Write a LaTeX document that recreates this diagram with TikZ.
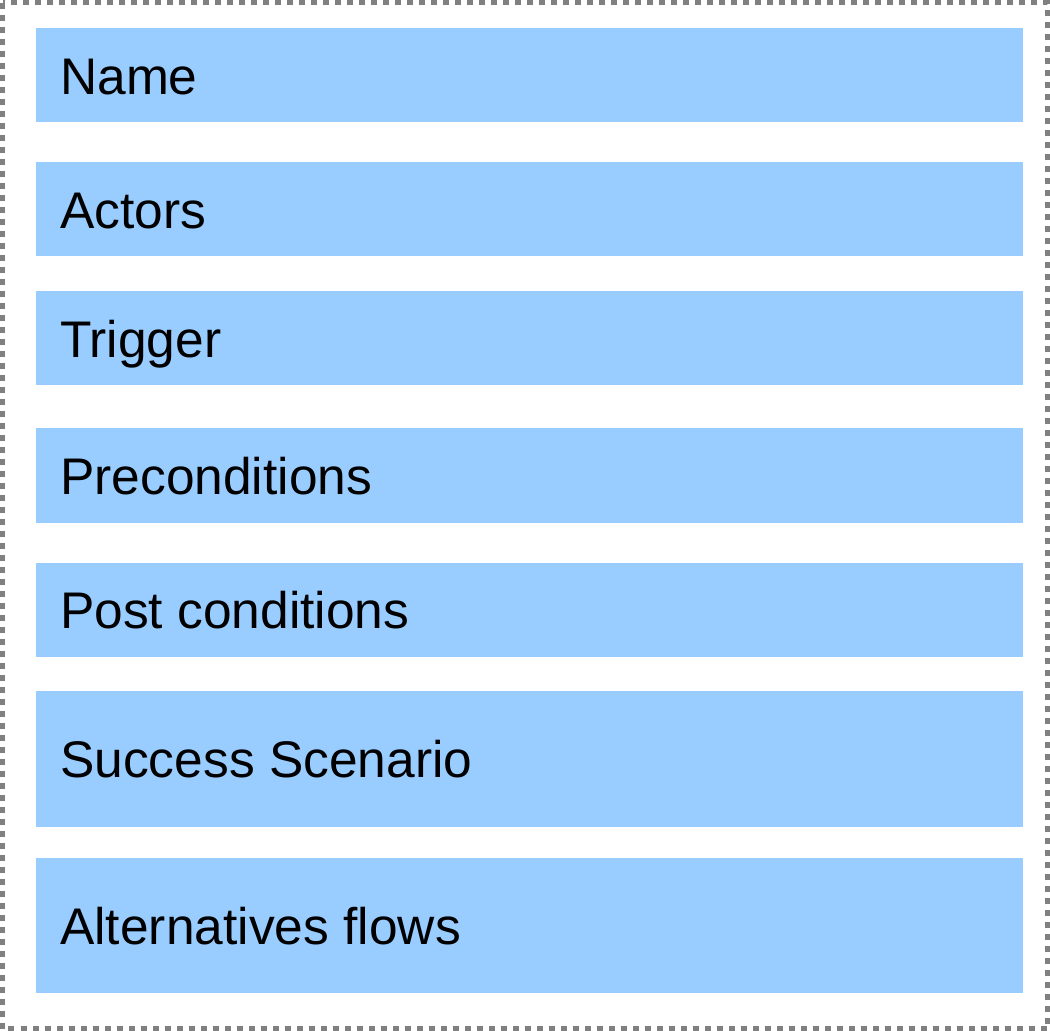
\documentclass[tikz,border=0pt]{standalone}
\usepackage{fontspec}
\setmainfont{Liberation Sans}
\definecolor{boxblue}{HTML}{99CCFF}
\definecolor{bordergray}{HTML}{808080}
\tikzset{
  x=1pt, y=-1pt,
  field/.style={fill=boxblue, draw=none},
  label/.style={anchor=base west, inner sep=0pt, font=\fontsize{51.5}{60}\selectfont, text=black}
}
\begin{document}
\begin{tikzpicture}
\useasboundingbox (0,0) rectangle (1050,1031);
\draw[bordergray, line width=5pt, dash pattern=on 6pt off 6pt] (2.5,2.5) rectangle (1047.5,1028.5);
\path[field] (36,28) rectangle (1023,122);
\node[label] (n1) at (60,94) {Name};
\path[field] (36,162) rectangle (1023,256);
\node[label] (n2) at (60,228) {Actors};
\path[field] (36,291) rectangle (1023,385);
\node[label] (n3) at (60,357) {Trigger};
\path[field] (36,428) rectangle (1023,523);
\node[label] (n4) at (60,494) {Preconditions};
\path[field] (36,563) rectangle (1023,657);
\node[label] (n5) at (60,628) {Post conditions};
\path[field] (36,691) rectangle (1023,827);
\node[label] (n6) at (60,777) {Success Scenario};
\path[field] (36,858) rectangle (1023,993);
\node[label] (n7) at (60,944) {Alternatives flows};
\end{tikzpicture}
\end{document}
